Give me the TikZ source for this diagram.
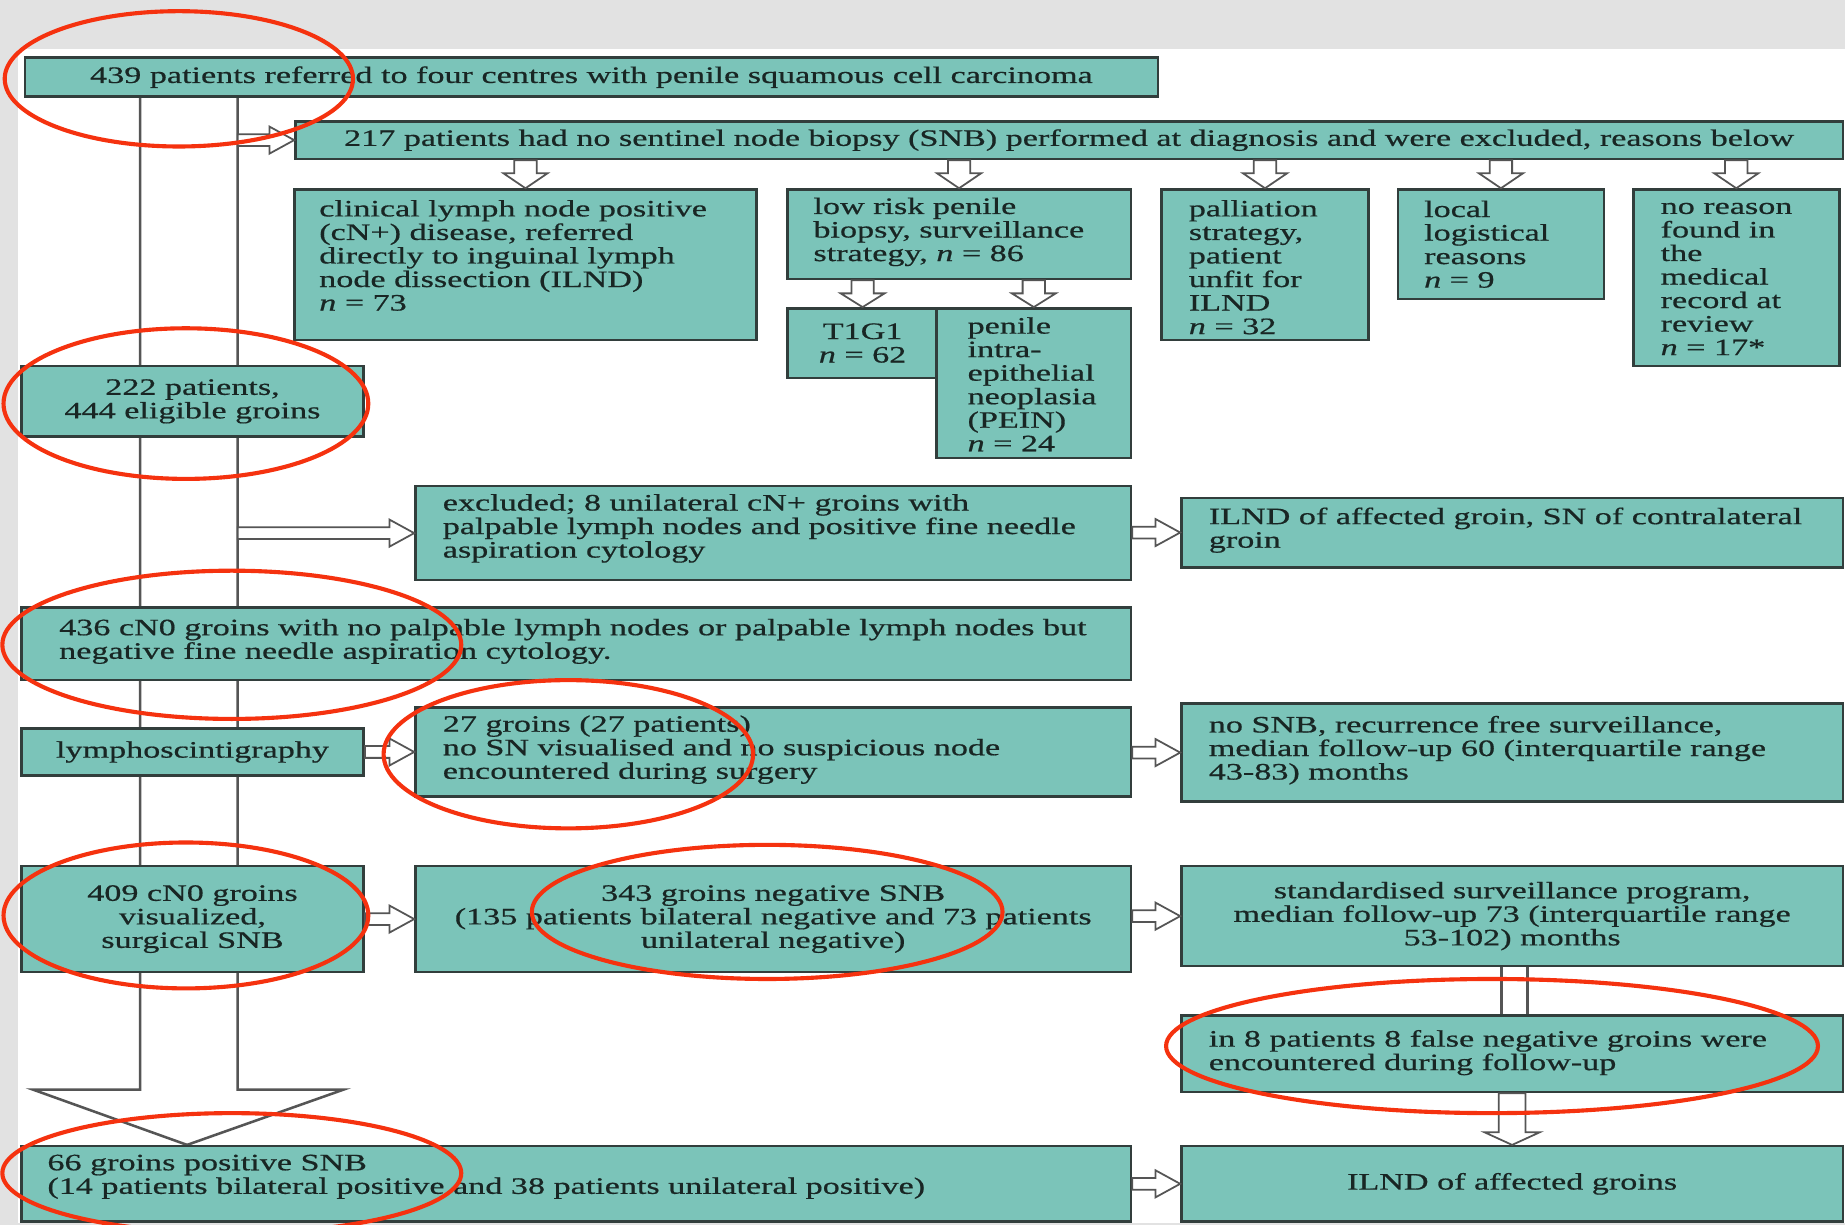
\documentclass[tikz,border=0pt]{standalone}
\usepackage{fontspec}
\setmainfont{Liberation Serif}[FakeStretch=1.45,FakeBold=0.6]
\usetikzlibrary{calc,backgrounds}
\definecolor{tealbox}{RGB}{123,196,185}
\definecolor{boxline}{RGB}{50,62,60}
\definecolor{conncol}{RGB}{85,85,85}
\definecolor{redmark}{RGB}{245,50,15}
\definecolor{bggrey}{RGB}{226,226,226}
\definecolor{txtc}{RGB}{25,38,36}
\newcommand{\fs}{\fontsize{12}{12}\selectfont}
% box: name, x1, y1, x2, y2, centred text
\newcommand{\mkbox}[6]{\node[tbox,minimum width={(#4-#2)*0.6pt},minimum height={(#5-#3)*0.6pt}] (#1) at (#2,#3) {#6};}
% left text inside a box: box name, left pad, vertical shift, text
\newcommand{\boxtext}[4]{\node[ltxt] (#1-t) at ($(#1.west)+(#2,#3)$) {#4};}
% horizontal hollow arrow: from x of #1 to #2 (west anchor)
\newcommand{\harr}[2]{\draw[arr] let \p1=(#1), \p2=(#2) in
  (\x1,\y2+3pt) -- (\x2-12.6pt,\y2+3pt) -- (\x2-12.6pt,\y2+6.9pt) -- (\x2,\y2)
  -- (\x2-12.6pt,\y2-6.9pt) -- (\x2-12.6pt,\y2-3pt) -- (\x1,\y2-3pt) -- cycle;}
% vertical hollow arrow: from y of #1 to #2 (north anchor); shaft half, head half, head length
\newcommand{\varr}[5]{\draw[arr] let \p1=(#1), \p2=(#2) in
  (\x2-#3,\y1) -- (\x2-#3,\y2+#5) -- (\x2-#4,\y2+#5) -- (\x2,\y2)
  -- (\x2+#4,\y2+#5) -- (\x2+#3,\y2+#5) -- (\x2+#3,\y1) -- cycle;}
\begin{document}
\begin{tikzpicture}[x=0.6pt,y=-0.6pt,
  tbox/.style={draw=boxline, fill=tealbox, line width=1.3pt, inner sep=0pt,
    anchor=north west, font=\fs, text=txtc, align=center},
  ltxt/.style={font=\fs, text=txtc, align=left, inner sep=0pt, anchor=west},
  arr/.style={draw=conncol, fill=white, line width=0.9pt, line join=miter},
  shaft/.style={draw=conncol, line width=1.3pt},
  ring/.style={draw=redmark, line width=2.1pt}]
\useasboundingbox (0,0) rectangle (1568,1041);

% boxes
\mkbox{top}{20}{48}{983}{81}{439 patients referred to four centres with penile squamous cell carcinoma}
\mkbox{ex217}{250}{102}{1565}{134}{217 patients had no sentinel node biopsy (SNB) performed at diagnosis and were excluded, reasons below}
\mkbox{clin}{249}{160}{642}{288}{}
\boxtext{clin}{22}{-8}{clinical lymph node positive\\(cN+) disease, referred\\directly to inguinal lymph\\node dissection (ILND)\\\textit{n} = 73}
\mkbox{lowr}{668}{160}{960}{236}{}
\boxtext{lowr}{23}{-2}{low risk penile\\biopsy, surveillance\\strategy, \textit{n} = 86}
\mkbox{t1g1}{668}{261}{796}{320}{T1G1\\\textit{n} = 62}
\mkbox{pein}{795}{261}{960}{388}{}
\boxtext{pein}{27}{1}{penile\\intra-\\epithelial\\neoplasia\\(PEIN)\\\textit{n} = 24}
\mkbox{pall}{986}{160}{1162}{288}{}
\boxtext{pall}{24}{2}{palliation\\strategy,\\patient\\unfit for\\ILND\\\textit{n} = 32}
\mkbox{local}{1187}{160}{1362}{253}{}
\boxtext{local}{23}{0}{local\\logistical\\reasons\\\textit{n} = 9}
\mkbox{noreas}{1387}{160}{1562}{310}{}
\boxtext{noreas}{24}{1}{no reason\\found in\\the\\medical\\record at\\review\\\textit{n} = 17*}
\mkbox{p222}{17}{310}{308}{370}{222 patients,\\444 eligible groins}
\mkbox{ex8}{352}{412}{960}{492}{}
\boxtext{ex8}{24}{-4}{excluded; 8 unilateral cN+ groins with\\palpable lymph nodes and positive fine needle\\aspiration cytology}
\mkbox{ilnd1}{1003}{422}{1565}{481}{}
\boxtext{ilnd1}{24}{-2}{ILND of affected groin, SN of contralateral\\groin}
\mkbox{cn0}{17}{515}{960}{577}{}
\boxtext{cn0}{33}{-2}{436 cN0 groins with no palpable lymph nodes or palpable lymph nodes but\\negative fine needle aspiration cytology.}
\mkbox{lym}{17}{618}{308}{658}{lymphoscintigraphy}
\mkbox{g27}{352}{600}{960}{676}{}
\boxtext{g27}{24}{-2}{27 groins (27 patients)\\no SN visualised and no suspicious node\\encountered during surgery}
\mkbox{nosnb}{1003}{597}{1565}{680}{}
\boxtext{nosnb}{24}{-2}{no SNB, recurrence free surveillance,\\median follow-up 60 (interquartile range\\43-83) months}
\mkbox{g409}{17}{735}{308}{825}{409 cN0 groins\\visualized,\\surgical SNB}
\mkbox{g343}{352}{735}{960}{825}{343 groins negative SNB\\(135 patients bilateral negative and 73 patients\\unilateral negative)}
\mkbox{std}{1003}{735}{1565}{820}{standardised surveillance program,\\median follow-up 73 (interquartile range\\53-102) months}
\mkbox{fn8}{1003}{862}{1565}{927}{}
\boxtext{fn8}{24}{-1}{in 8 patients 8 false negative groins were\\encountered during follow-up}
\mkbox{g66}{17}{973}{960}{1037}{}
\boxtext{g66}{23}{-6}{66 groins positive SNB\\(14 patients bilateral positive and 38 patients unilateral positive)}
\mkbox{ilnd2}{1003}{973}{1565}{1037}{ILND of affected groins}

% shaft of the big hollow arrow
\coordinate (shL) at (119,0);
\coordinate (shR) at (202,0);
\coordinate (tipx) at (159,0);
\begin{scope}[on background layer]
  \fill[white] (0,0) rectangle (1568,1041);
  \fill[bggrey] (0,0) rectangle (1568,42);
  \fill[bggrey] (0,0) rectangle (15,1041);
  \fill[bggrey] (0,1039) rectangle (1568,1041);
  \draw[shaft, line join=miter] (shL |- top.south) -- (119,926) -- (28,926) -- (tipx |- g66.north)
     -- (292,926) -- (202,926) -- (shR |- top.south);
\end{scope}

% horizontal hollow arrows
\harr{shR}{ex217.west}
\harr{shR}{ex8.west}
\harr{ex8.east}{ilnd1.west}
\harr{lym.east}{g27.west}
\harr{g27.east}{nosnb.west}
\harr{g409.east}{g343.west}
\harr{g343.east}{std.west}
\harr{g66.east}{ilnd2.west}

% vertical hollow arrows
\varr{ex217.south}{clin.north}{5.7pt}{11.2pt}{7.6pt}
\varr{ex217.south}{lowr.north}{5.7pt}{11.2pt}{7.6pt}
\varr{ex217.south}{pall.north}{5.7pt}{11.2pt}{7.6pt}
\varr{ex217.south}{local.north}{5.7pt}{11.2pt}{7.6pt}
\varr{ex217.south}{noreas.north}{5.7pt}{11.2pt}{7.6pt}
\varr{lowr.south}{t1g1.north}{5.7pt}{11.2pt}{7pt}
\varr{lowr.south}{pein.north}{5.7pt}{11.2pt}{7pt}
\draw[shaft, line width=1.1pt] let \p1=(std.south), \p2=(fn8.north) in
  (\x2+1.2pt-6.6pt,\y1) -- (\x2+1.2pt-6.6pt,\y2) (\x2+1.2pt+6.6pt,\y1) -- (\x2+1.2pt+6.6pt,\y2);
\varr{fn8.south}{ilnd2.north}{6.8pt}{14pt}{6.4pt}

% red annotation rings
\draw[ring] (152,67) ellipse [x radius=88.8pt, y radius=34.5pt];
\draw[ring] (158,343) ellipse [x radius=93pt, y radius=38.4pt];
\draw[ring] (197,548) ellipse [x radius=117pt, y radius=37.8pt];
\draw[ring] (483,641) ellipse [x radius=94.2pt, y radius=37.8pt];
\draw[ring] (158,778) ellipse [x radius=93pt, y radius=37.2pt];
\draw[ring] (652,775) ellipse [x radius=120pt, y radius=34.2pt];
\draw[ring] (1268,889) ellipse [x radius=166.2pt, y radius=34.2pt];
\draw[ring] (197,997) ellipse [x radius=117pt, y radius=30.6pt];
\end{tikzpicture}
\end{document}
